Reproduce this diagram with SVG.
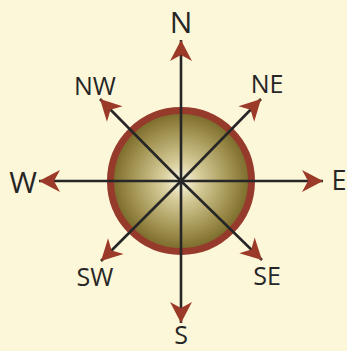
<svg xmlns="http://www.w3.org/2000/svg" width="347" height="351" viewBox="0 0 347 351">
<defs>
<radialGradient id="sphere" cx="0.5" cy="0.5" r="0.5">
<stop offset="0" stop-color="#fbf9ea"/>
<stop offset="0.25" stop-color="#d9d09e"/>
<stop offset="0.7" stop-color="#a29352"/>
<stop offset="1" stop-color="#786828"/>
</radialGradient>
<marker id="head" viewBox="-22 -12 24 24" refX="0" refY="0" markerWidth="24" markerHeight="24" markerUnits="userSpaceOnUse" orient="auto">
<path d="M0,0 L-21,-11 L-15,0 L-21,11 Z" fill="#9b3a28"/>
</marker>
<style>
.lbl{font-family:"Open Sans","Liberation Sans",sans-serif;fill:#262626;text-anchor:middle}
.big{font-size:30px}
.sm{font-size:25px}
.ray{stroke:#262626;stroke-width:2.6;fill:none;marker-end:url(#head)}
</style>
</defs>
<rect width="347" height="351" fill="#fdf7d9"/>
<g id="globe">
<circle cx="181" cy="181" r="70.5" fill="url(#sphere)" stroke="#963a2c" stroke-width="7"/>
</g>
<g id="connectors">
<line class="ray" x1="181" y1="181" x2="181" y2="40"/>
<line class="ray" x1="181" y1="181" x2="181" y2="323"/>
<line class="ray" x1="181" y1="181" x2="39" y2="181"/>
<line class="ray" x1="181" y1="181" x2="323" y2="181"/>
<line class="ray" x1="181" y1="181" x2="100" y2="99"/>
<line class="ray" x1="181" y1="181" x2="261" y2="99"/>
<line class="ray" x1="181" y1="181" x2="262" y2="260"/>
<line class="ray" x1="181" y1="181" x2="101" y2="261"/>
</g>
<g id="N"><text class="lbl big" x="181" y="33">N</text></g>
<g id="S"><text class="lbl" style="font-size:25px" x="181" y="344">S</text></g>
<g id="W"><text class="lbl big" x="23" y="193">W</text></g>
<g id="E"><text class="lbl" style="font-size:27px" x="339" y="190">E</text></g>
<g id="NW"><text class="lbl sm" x="95" y="95">NW</text></g>
<g id="NE"><text class="lbl sm" x="267" y="93">NE</text></g>
<g id="SE"><text class="lbl sm" x="267" y="285">SE</text></g>
<g id="SW"><text class="lbl sm" x="95" y="286">SW</text></g>
</svg>
